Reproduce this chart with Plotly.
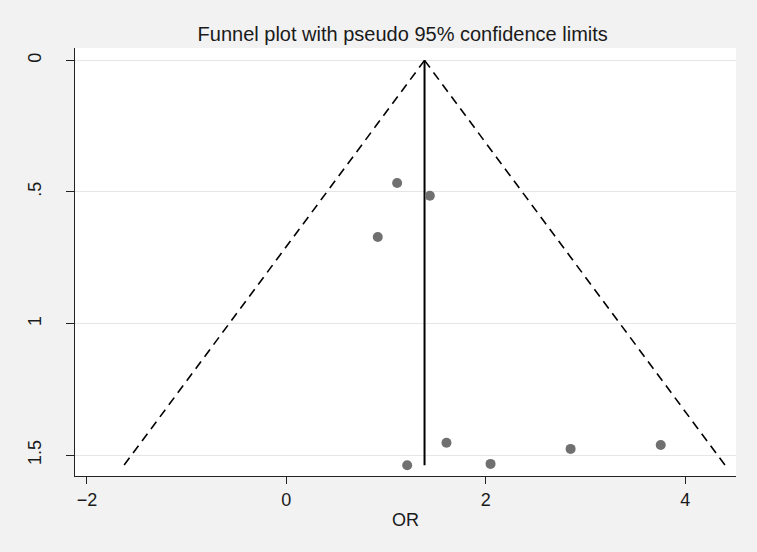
import plotly.graph_objects as go

# study estimates (OR) and their standard errors
or_values = [1.111, 1.439, 0.917, 1.212, 1.606, 2.048, 2.851, 3.755]
se_values = [0.466, 0.514, 0.671, 1.538, 1.453, 1.533, 1.476, 1.461]

# pooled estimate and pseudo 95% confidence limits
pooled_or = [1.386, 1.386]
limit_se = [0.0, 1.538]
lower_limit = [1.386, -1.628]
upper_limit = [1.386, 4.400]

x_ticks = [-2, 0, 2, 4]
y_ticks = [0, 0.5, 1, 1.5]
y_tick_labels = ["0", ".5", "1", "1.5"]

fig = go.Figure()

fig.add_trace(go.Scatter(
    x=lower_limit, y=limit_se, mode="lines",
    line=dict(color="black", width=1.6, dash="9px,6px"),
    hoverinfo="skip", showlegend=False
))
fig.add_trace(go.Scatter(
    x=upper_limit, y=limit_se, mode="lines",
    line=dict(color="black", width=1.6, dash="9px,6px"),
    hoverinfo="skip", showlegend=False
))
fig.add_trace(go.Scatter(
    x=pooled_or, y=limit_se, mode="lines",
    line=dict(color="black", width=2),
    hoverinfo="skip", showlegend=False
))
fig.add_trace(go.Scatter(
    x=or_values, y=se_values, mode="markers",
    marker=dict(color="#707070", size=10),
    showlegend=False
))

fig.update_layout(
    width=757, height=552,
    paper_bgcolor="#f2f2f2",
    plot_bgcolor="white",
    margin=dict(l=75, r=21, t=48, b=76),
    font=dict(family="Liberation Sans, Arial, sans-serif", color="#1a1a1a", size=18),
    title=dict(text="Funnel plot with pseudo 95% confidence limits",
               x=0.532, xanchor="center", y=0.938, yanchor="middle",
               font=dict(size=20, color="#1a1a1a")),
)

fig.update_xaxes(
    range=[-2.12, 4.51],
    tickvals=x_ticks,
    ticks="outside", ticklen=7, tickcolor="#222",
    showline=True, linecolor="#222", linewidth=1.2,
    showgrid=False, zeroline=False,
    title=dict(text="OR", standoff=4, font=dict(size=18)),
)
fig.update_yaxes(
    range=[1.579, -0.047],
    tickvals=y_ticks, ticktext=y_tick_labels, tickangle=-90,
    ticks="outside", ticklen=8, tickcolor="#222",
    ticklabelstandoff=18,
    showline=True, linecolor="#222", linewidth=1.2,
    showgrid=True, gridcolor="#e6e6e6", gridwidth=1,
    zeroline=False,
)

fig.write_html("out.html", config={"displayModeBar": False},
               post_script="document.body.style.margin='0';")
